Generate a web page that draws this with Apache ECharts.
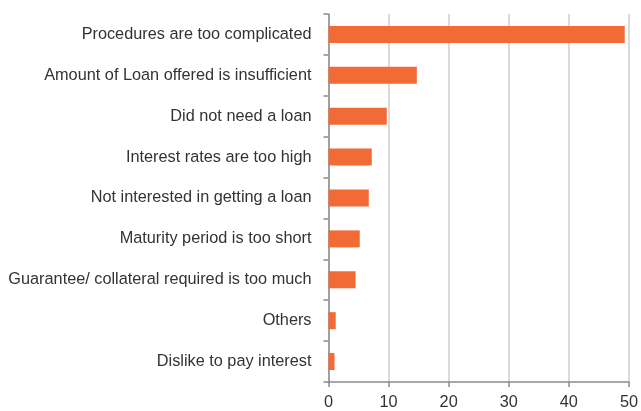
<!DOCTYPE html>
<html><head><meta charset="utf-8">
<script src="https://cdn.jsdelivr.net/npm/echarts@6/dist/echarts.min.js"></script>
<style>html,body{margin:0;padding:0;background:#fff}#c{width:641px;height:411px}</style>
</head><body><div id="c"></div>
<script>
const categories = [
  "Procedures are too complicated",
  "Amount of Loan offered is insufficient",
  "Did not need a loan",
  "Interest rates are too high",
  "Not interested in getting a loan",
  "Maturity period is too short",
  "Guarantee/ collateral required is too much",
  "Others",
  "Dislike to pay interest"
];
const values = [49.3, 14.7, 9.7, 7.2, 6.7, 5.2, 4.5, 1.2, 1.0];
const xTicks = [0, 10, 20, 30, 40, 50];

const chart = echarts.init(document.getElementById('c'), null, {renderer: 'canvas'});
chart.setOption({
  animation: false,
  grid: {left: 328.5, right: 11, top: 14, bottom: 28, containLabel: false},
  xAxis: {
    type: 'value', min: xTicks[0], max: xTicks[xTicks.length - 1], interval: 10,
    axisLine: {show: true, lineStyle: {color: '#8c8c8c', width: 1.5}},
    axisTick: {show: true, length: 5, lineStyle: {color: '#8c8c8c', width: 1.5}},
    axisLabel: {color: '#333', fontSize: 16.3, fontFamily: 'Liberation Sans', margin: 13},
    splitLine: {show: true, lineStyle: {color: '#cfcfcf', width: 1.5}}
  },
  yAxis: {
    type: 'category', data: categories, inverse: true,
    axisLine: {show: true, lineStyle: {color: '#8c8c8c', width: 1.5}},
    axisTick: {show: true, length: 5, lineStyle: {color: '#8c8c8c', width: 1.5}},
    axisLabel: {color: '#333', fontSize: 16.3, fontFamily: 'Liberation Sans', margin: 17, padding: [0, 0, 4, 0]},
    splitLine: {show: false}
  },
  series: [{
    type: 'bar', data: values, barWidth: 17,
    itemStyle: {color: '#F26A35'}
  }]
});
</script></body></html>
